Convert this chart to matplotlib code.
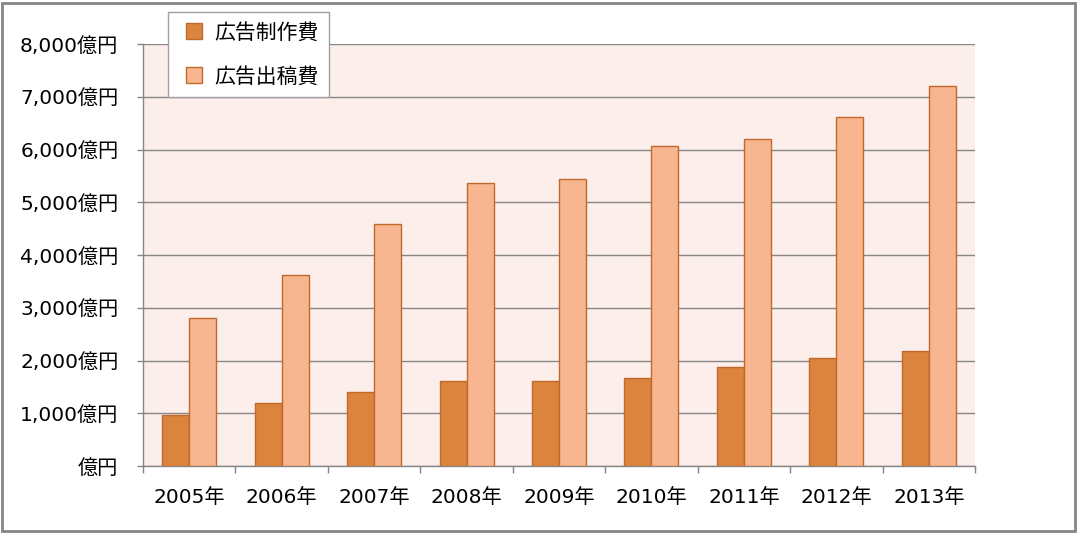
import matplotlib
matplotlib.use("Agg")
import matplotlib.pyplot as plt
from matplotlib.patches import Rectangle
from matplotlib.lines import Line2D
import numpy as np

plt.rcParams['font.family'] = ['DejaVu Sans', 'Noto Sans CJK JP']

years = ["2005年", "2006年", "2007年", "2008年", "2009年", "2010年", "2011年", "2012年", "2013年"]
production = [970, 1200, 1400, 1610, 1610, 1670, 1880, 2050, 2180]
placement = [2810, 3630, 4580, 5360, 5440, 6070, 6190, 6620, 7210]
series_names = ["広告制作費", "広告出稿費"]
yticks = [0, 1000, 2000, 3000, 4000, 5000, 6000, 7000, 8000]

dark = "#DB843D"
light = "#F8B690"
edge = "#C0692A"
grid_c = "#868686"

fig = plt.figure(figsize=(10.78, 5.33), dpi=100)
ax = fig.add_axes([143/1078, 67/533, (975-143)/1078, (466-44)/533])
ax.set_facecolor("#FCEEEA")

x = np.arange(len(years))
w = 0.292
ax.bar(x - w/2, production, width=w, color=dark, edgecolor=edge, linewidth=1, zorder=3)
ax.bar(x + w/2, placement, width=w, color=light, edgecolor=edge, linewidth=1, zorder=3)

ax.set_xlim(-0.5, len(years) - 0.5)
ax.set_ylim(0, 8000)
ax.set_yticks(yticks)
ax.set_yticklabels([f"{v:,}億円" if v else "億円" for v in yticks], fontsize=14.5)
ax.yaxis.grid(True, color=grid_c, linewidth=1, zorder=1)
ax.set_axisbelow(True)

ax.set_xticks(x)
ax.set_xticklabels(years, fontsize=14.5)
ax.set_xticks(np.arange(-0.5, len(years)), minor=True)
ax.tick_params(axis='x', which='major', length=0, pad=16)
ax.tick_params(axis='x', which='minor', length=5, color=grid_c, width=1)
ax.tick_params(axis='y', length=4.3, color=grid_c, width=1, pad=13.5)

for s in ['top', 'right']:
    ax.spines[s].set_visible(False)
for s in ['left', 'bottom']:
    ax.spines[s].set_color(grid_c)
    ax.spines[s].set_linewidth(1)

handles = [Line2D([], [], linestyle='none', marker='s', markersize=11.5,
                  markerfacecolor=dark, markeredgecolor=edge, markeredgewidth=1, label=series_names[0]),
           Line2D([], [], linestyle='none', marker='s', markersize=11.5,
                  markerfacecolor=light, markeredgecolor=edge, markeredgewidth=1, label=series_names[1])]
leg = fig.legend(handles=handles, loc='upper left',
                 bbox_to_anchor=(168/1078, 1 - 12/533), fontsize=15,
                 frameon=True, fancybox=False, handlelength=1.5,
                 handletextpad=0.2, labelspacing=1.15, borderpad=0.5, borderaxespad=0)
leg.get_frame().set_edgecolor("#A0A0A0")
leg.get_frame().set_linewidth(1)
leg.get_frame().set_facecolor("white")
leg.get_frame().set_alpha(1)

fig.patches.append(Rectangle((2/1078, 2/533), 1073/1078, 528/533, transform=fig.transFigure,
                             fill=False, edgecolor=grid_c, linewidth=2))

fig.savefig("out.png", dpi=100)
